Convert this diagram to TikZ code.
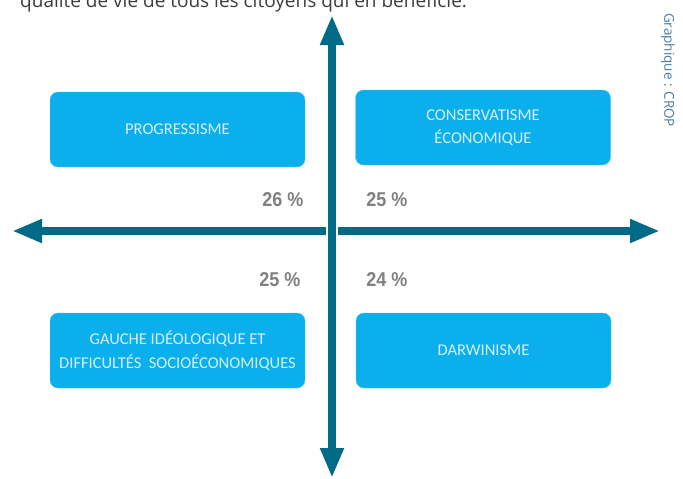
\documentclass[tikz,border=0pt]{standalone}
\usepackage{fontspec}
\setmainfont{Carlito}
\newfontfamily\pctfont[FakeStretch=0.9]{Liberation Sans}
\newfontfamily\topfont{Open Sans}
\usetikzlibrary{arrows.meta}
\definecolor{axisblue}{HTML}{006A87}
\definecolor{boxblue}{HTML}{0AAFEC}
\definecolor{boxtext}{HTML}{D6F1FF}
\definecolor{pctgray}{HTML}{808080}
\definecolor{creditblue}{HTML}{4A7BA6}
\definecolor{toptext}{HTML}{3C3C3C}

\begin{document}
\begin{tikzpicture}[x=1pt, y=-1pt,
  quad/.style={draw=boxblue!70!white, fill=boxblue, rounded corners=8pt, minimum width=255pt, minimum height=75pt, text=boxtext, font=\fontsize{16.5}{23.5}\selectfont, align=center},
  pct/.style={text=pctgray, font=\pctfont\bfseries\fontsize{20}{24}\selectfont},
  axis/.style={draw=axisblue, line width=8pt, {Triangle[length=30pt, width=22pt]}-{Triangle[length=30pt, width=22pt]}}]
\useasboundingbox (0,0) rectangle (683,479);
\clip (0,0) rectangle (683,479);
% cut-off line of the text above
\node[anchor=base west, inner sep=0pt, text=toptext, font=\topfont\fontsize{19}{23}\selectfont] (intro) at (20,7) {qualité de vie de tous les citoyens qui en bénéficie.};
\node[rotate=-90, inner sep=0pt, text=creditblue, font=\topfont\fontsize{13.5}{15}\selectfont] (credit) at (668,70) {Graphique : CROP};
% axes
\coordinate (west) at (12,231);
\coordinate (east) at (660,231);
\coordinate (north) at (332,15);
\coordinate (south) at (332,478);
\draw[axis] (west) -- (east);
\draw[axis, preaction={draw=white, line width=12pt, arrows=-}] (north) -- (south);
% quadrants
\node[quad] (prog) at (177.5,129.5) {PROGRESSISME};
\node[quad] (cons) at (483,127.5) {CONSERVATISME\\ÉCONOMIQUE};
\node[quad] (gauche) at (177.5,350.5) {GAUCHE IDÉOLOGIQUE ET\\DIFFICULTÉS\ \ SOCIOÉCONOMIQUES};
\node[quad] (darw) at (483.5,350.5) {DARWINISME};
% shares
\node[pct] (p1) at (283,200) {26 \%};
\node[pct] (p2) at (387,200) {25 \%};
\node[pct] (p3) at (280,280) {25 \%};
\node[pct] (p4) at (387,280) {24 \%};
\end{tikzpicture}
\end{document}
